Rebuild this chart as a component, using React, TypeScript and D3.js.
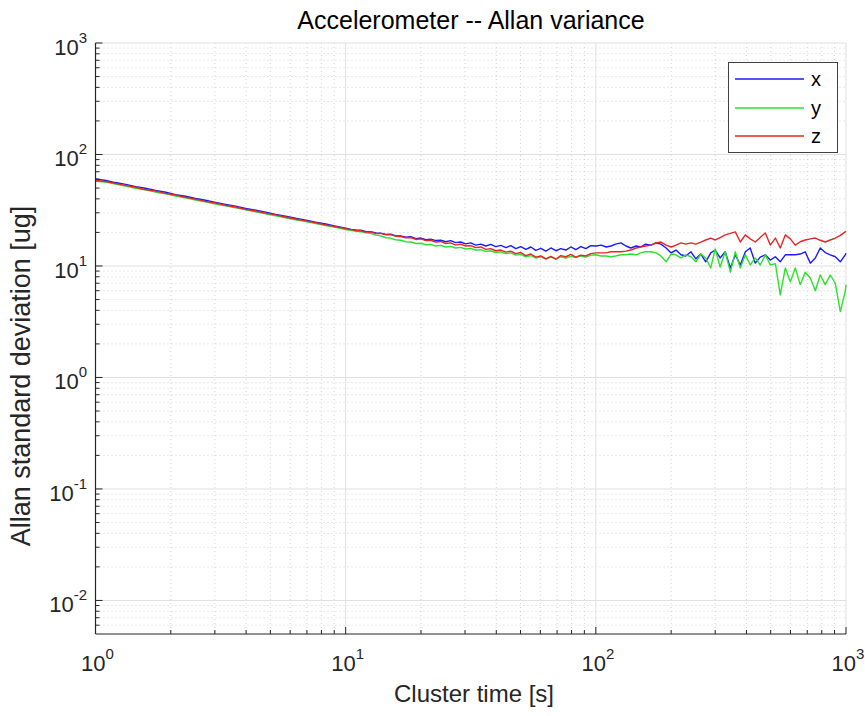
import React from "react";
import * as d3 from "d3";

// Cluster times [s]
const TAU_A = [1, 1.1, 1.2, 1.32, 1.45, 1.58, 1.74, 1.91, 2.09, 2.29, 2.51, 2.75, 3.02, 3.31, 3.63, 3.98, 4.37, 4.79, 5.25, 5.75, 6.31, 6.92, 7.59, 8.32, 9.12];
const TAU_B = [10, 10.5, 11, 11.5, 12, 12.6, 13.2, 13.8, 14.5, 15.1, 15.8, 16.6, 17.4, 18.2, 19.1, 20, 20.9, 21.9, 22.9, 24, 25.1, 26.3, 27.5, 28.8, 30.2, 31.6, 33.1, 34.7, 36.3, 38, 39.8, 41.7, 43.7, 45.7, 47.9, 50.1, 52.5, 55, 57.5, 60.3, 63.1, 66.1, 69.2, 72.4, 75.9, 79.4, 83.2, 87.1, 91.2, 95.5];
const TAU_C = [100, 105, 110, 115, 120, 126, 132, 138, 145, 151, 158, 166, 174, 182, 191, 200, 209, 219, 229, 240, 251, 263, 275, 288];
const TAU_D = [300, 314, 329, 345, 361, 378, 396, 414, 434, 454, 476, 498, 522, 546, 572, 599, 627, 656, 687, 720, 754, 789, 826, 865, 906, 949, 993, 1000];

// Allan deviation [ug]
const X_VALUES = [
  60.5, 58.5, 56.0, 54.0, 51.5, 49.8, 47.6, 45.8, 43.6, 42.2, 40.3, 38.9, 37.2, 35.7, 34.4, 32.8, 31.6, 30.4, 29.0, 28.0, 26.8, 25.8, 24.7, 23.8, 22.8,
  21.8, 21.3, 21.0, 20.9, 20.4, 20.3, 19.8, 19.7, 19.2, 19.3, 18.7, 18.6, 18.1, 18.3, 17.6, 17.8, 17.2, 17.4, 16.9, 17.0, 16.5, 16.9, 16.2, 16.4, 15.8, 16.1, 15.4, 15.7, 15.1, 15.6, 14.9, 15.3, 14.6, 15.2, 14.3, 14.9, 14.1, 14.8, 13.8, 14.4, 13.6, 14.5, 13.7, 14.3, 13.9, 14.8, 14.0, 14.9, 14.3, 15.2,
  15.1, 15.4, 14.8, 15.1, 15.7, 16.1, 15.1, 14.5, 15.1, 14.8, 15.7, 15.4, 16.1, 15.7, 14.5, 13.1, 13.9, 12.6, 12.3, 13.4, 11.6, 12.8, 10.9, 13.1,
  13.9, 11.8, 13.4, 9.6, 12.6, 10.2, 13.4, 14.5, 10.6, 12.0, 12.6, 11.3, 12.1, 10.9, 12.6, 12.6, 12.6, 12.8, 13.4, 10.6, 11.8, 14.5, 13.2, 12.6, 12.1, 10.9, 12.6, 13.0,
];
const Y_VALUES = [
  57.5, 56.5, 54.2, 52.2, 49.8, 48.2, 45.9, 44.3, 42.4, 40.8, 39.1, 37.6, 36.0, 34.7, 33.2, 31.9, 30.6, 29.4, 28.2, 27.1, 26.0, 25.0, 24.0, 23.1, 22.2,
  21.2, 20.9, 20.5, 20.3, 19.8, 19.6, 18.9, 18.6, 17.9, 17.8, 17.2, 17.0, 16.5, 16.4, 15.9, 16.0, 15.5, 15.6, 15.1, 15.3, 14.8, 15.0, 14.5, 14.7, 14.2, 14.4, 13.9, 14.0, 13.5, 13.7, 13.2, 13.4, 12.9, 13.1, 12.5, 12.7, 12.1, 12.4, 11.8, 12.1, 11.5, 12.0, 11.6, 12.1, 11.8, 12.2, 11.9, 12.3, 12.0, 12.5,
  12.6, 12.3, 12.3, 12.1, 12.3, 12.6, 12.6, 12.8, 12.6, 13.1, 13.4, 13.4, 13.1, 12.3, 10.9, 12.8, 12.6, 11.8, 12.6, 12.1, 10.9, 12.8, 11.8, 9.6,
  14.2, 9.8, 13.4, 8.8, 13.4, 9.6, 12.6, 10.2, 11.8, 10.2, 12.6, 10.2, 10.5, 5.5, 9.6, 7.2, 9.6, 6.8, 8.8, 7.8, 6.0, 8.3, 6.8, 8.3, 7.0, 3.9, 5.9, 6.8,
];
const Z_VALUES = [
  58.5, 57.2, 55.0, 52.8, 50.8, 48.5, 46.9, 44.8, 43.2, 41.3, 39.8, 38.0, 36.7, 35.0, 33.8, 32.3, 31.1, 29.8, 28.7, 27.5, 26.4, 25.4, 24.4, 23.4, 22.5,
  21.6, 21.2, 20.8, 20.7, 20.1, 20.2, 19.5, 19.6, 19.0, 19.1, 18.5, 18.4, 17.9, 18.0, 17.3, 17.5, 16.9, 17.0, 16.4, 16.6, 15.9, 16.1, 15.4, 15.7, 15.1, 15.2, 14.6, 14.8, 14.1, 14.3, 13.7, 13.9, 13.3, 13.6, 12.9, 13.2, 12.4, 12.8, 12.0, 12.3, 11.6, 12.2, 11.5, 12.4, 12.1, 12.7, 12.0, 12.5, 12.3, 12.9,
  13.1, 13.1, 13.1, 13.4, 13.4, 13.4, 13.6, 13.9, 14.5, 14.8, 15.1, 15.4, 16.1, 16.4, 15.4, 14.8, 15.4, 16.1, 15.7, 16.1, 15.7, 16.4, 17.1, 17.8,
  17.1, 18.0, 19.0, 19.6, 20.2, 16.4, 19.0, 17.5, 16.4, 18.0, 19.8, 15.4, 17.8, 14.5, 19.0, 17.5, 15.4, 16.5, 17.1, 17.5, 17.8, 17.0, 16.4, 17.1, 17.8, 18.8, 20.2, 20.5,
];

const SERIES_NAMES = ["x", "y", "z"];
const SERIES_COLORS = ["#1a1aff", "#2ee02e", "#e32626"];
const X_DECADES = [0, 1, 2, 3];
const Y_DECADES = [-2, -1, 0, 1, 2, 3];

const TITLE = "Accelerometer -- Allan variance";
const X_LABEL = "Cluster time [s]";
const Y_LABEL = "Allan standard deviation [ug]";

const W = 865;
const H = 716;
const L = 95.5, R = 846, T = 43, B = 634;
const FONT = "'Liberation Sans', Arial, Helvetica, sans-serif";
const AX = "#262626";

export default function App() {
  const tau = [...TAU_A, ...TAU_B, ...TAU_C, ...TAU_D];
  const x = d3.scaleLog().domain([1, 1000]).range([L, R]);
  const y = d3.scaleLog().domain([0.005, 1000]).range([B, T]);
  const series = [X_VALUES, Y_VALUES, Z_VALUES];
  const line = d3
    .line<[number, number]>()
    .x((d) => x(d[0]))
    .y((d) => y(d[1]));

  const xMinor: number[] = [];
  for (let e = 0; e < 3; e++) for (let m = 2; m <= 9; m++) xMinor.push(m * Math.pow(10, e));
  const yMinor: number[] = [];
  for (let e = -3; e < 3; e++)
    for (let m = 2; m <= 9; m++) {
      const v = m * Math.pow(10, e);
      if (v > 0.005 && v < 1000) yMinor.push(v);
    }

  return (
    <svg width={W} height={H} style={{ position: "absolute", left: 0, top: 0, background: "#fff" }} fontFamily={FONT}>
      <rect x={0} y={0} width={W} height={H} fill="#fff" />
      {/* minor grid */}
      {xMinor.map((v) => (
        <line key={"xm" + v} x1={x(v)} x2={x(v)} y1={T} y2={B} stroke="#c8c8c8" strokeWidth={0.8} strokeDasharray="1,3" />
      ))}
      {yMinor.map((v) => (
        <line key={"ym" + v} x1={L} x2={R} y1={y(v)} y2={y(v)} stroke="#c8c8c8" strokeWidth={0.8} strokeDasharray="1,3" />
      ))}
      {/* major grid */}
      {X_DECADES.map((e) => (
        <line key={"xg" + e} x1={x(Math.pow(10, e))} x2={x(Math.pow(10, e))} y1={T} y2={B} stroke="#e0e0e0" strokeWidth={1} />
      ))}
      {Y_DECADES.map((e) => (
        <line key={"yg" + e} x1={L} x2={R} y1={y(Math.pow(10, e))} y2={y(Math.pow(10, e))} stroke="#e0e0e0" strokeWidth={1} />
      ))}
      {/* data */}
      {series.map((vals, i) => (
        <path
          key={SERIES_NAMES[i]}
          d={line(tau.map((t, k) => [t, vals[k]] as [number, number])) || ""}
          fill="none"
          stroke={SERIES_COLORS[i]}
          strokeWidth={1.4}
          strokeLinejoin="round"
        />
      ))}
      {/* axes */}
      <line x1={L} x2={L} y1={T} y2={B} stroke={AX} strokeWidth={1.2} />
      <line x1={L} x2={R} y1={B} y2={B} stroke={AX} strokeWidth={1.2} />
      {X_DECADES.map((e) => (
        <line key={"xt" + e} x1={x(Math.pow(10, e))} x2={x(Math.pow(10, e))} y1={B} y2={B - 7} stroke={AX} strokeWidth={1} />
      ))}
      {xMinor.map((v) => (
        <line key={"xmt" + v} x1={x(v)} x2={x(v)} y1={B} y2={B - 4} stroke={AX} strokeWidth={1} />
      ))}
      {Y_DECADES.map((e) => (
        <line key={"yt" + e} x1={L} x2={L + 7} y1={y(Math.pow(10, e))} y2={y(Math.pow(10, e))} stroke={AX} strokeWidth={1} />
      ))}
      {yMinor.map((v) => (
        <line key={"ymt" + v} x1={L} x2={L + 4} y1={y(v)} y2={y(v)} stroke={AX} strokeWidth={1} />
      ))}
      {/* tick labels */}
      {X_DECADES.map((e) => (
        <text key={"xl" + e} x={x(Math.pow(10, e)) + 2} y={671} fill={AX} fontSize={22} textAnchor="middle">
          10
          <tspan fontSize={15} dy={-12}>{e}</tspan>
        </text>
      ))}
      {Y_DECADES.map((e) => (
        <text key={"yl" + e} x={87} y={y(Math.pow(10, e)) + 12} fill={AX} fontSize={22} textAnchor="end">
          10
          <tspan fontSize={15} dy={-12}>{e}</tspan>
        </text>
      ))}
      {/* titles */}
      <text x={471} y={29} textAnchor="middle" fontSize={25} fill="#000">{TITLE}</text>
      <text x={474} y={702} textAnchor="middle" fontSize={24} fill={AX}>{X_LABEL}</text>
      <text transform="translate(30,376) rotate(-90)" textAnchor="middle" fontSize={27} fill={AX}>{Y_LABEL}</text>
      {/* legend */}
      <rect x={728.5} y={62.5} width={109} height={90} fill="#fff" stroke="#404040" strokeWidth={1} />
      {SERIES_NAMES.map((n, i) => (
        <g key={"lg" + n}>
          <line x1={735} x2={804} y1={79 + Math.round(i * 28.5)} y2={79 + Math.round(i * 28.5)} stroke={SERIES_COLORS[i]} strokeWidth={1.5} />
          <text x={811} y={79 + Math.round(i * 28.5) + 7} fontSize={20} fill="#000">{n}</text>
        </g>
      ))}
    </svg>
  );
}
